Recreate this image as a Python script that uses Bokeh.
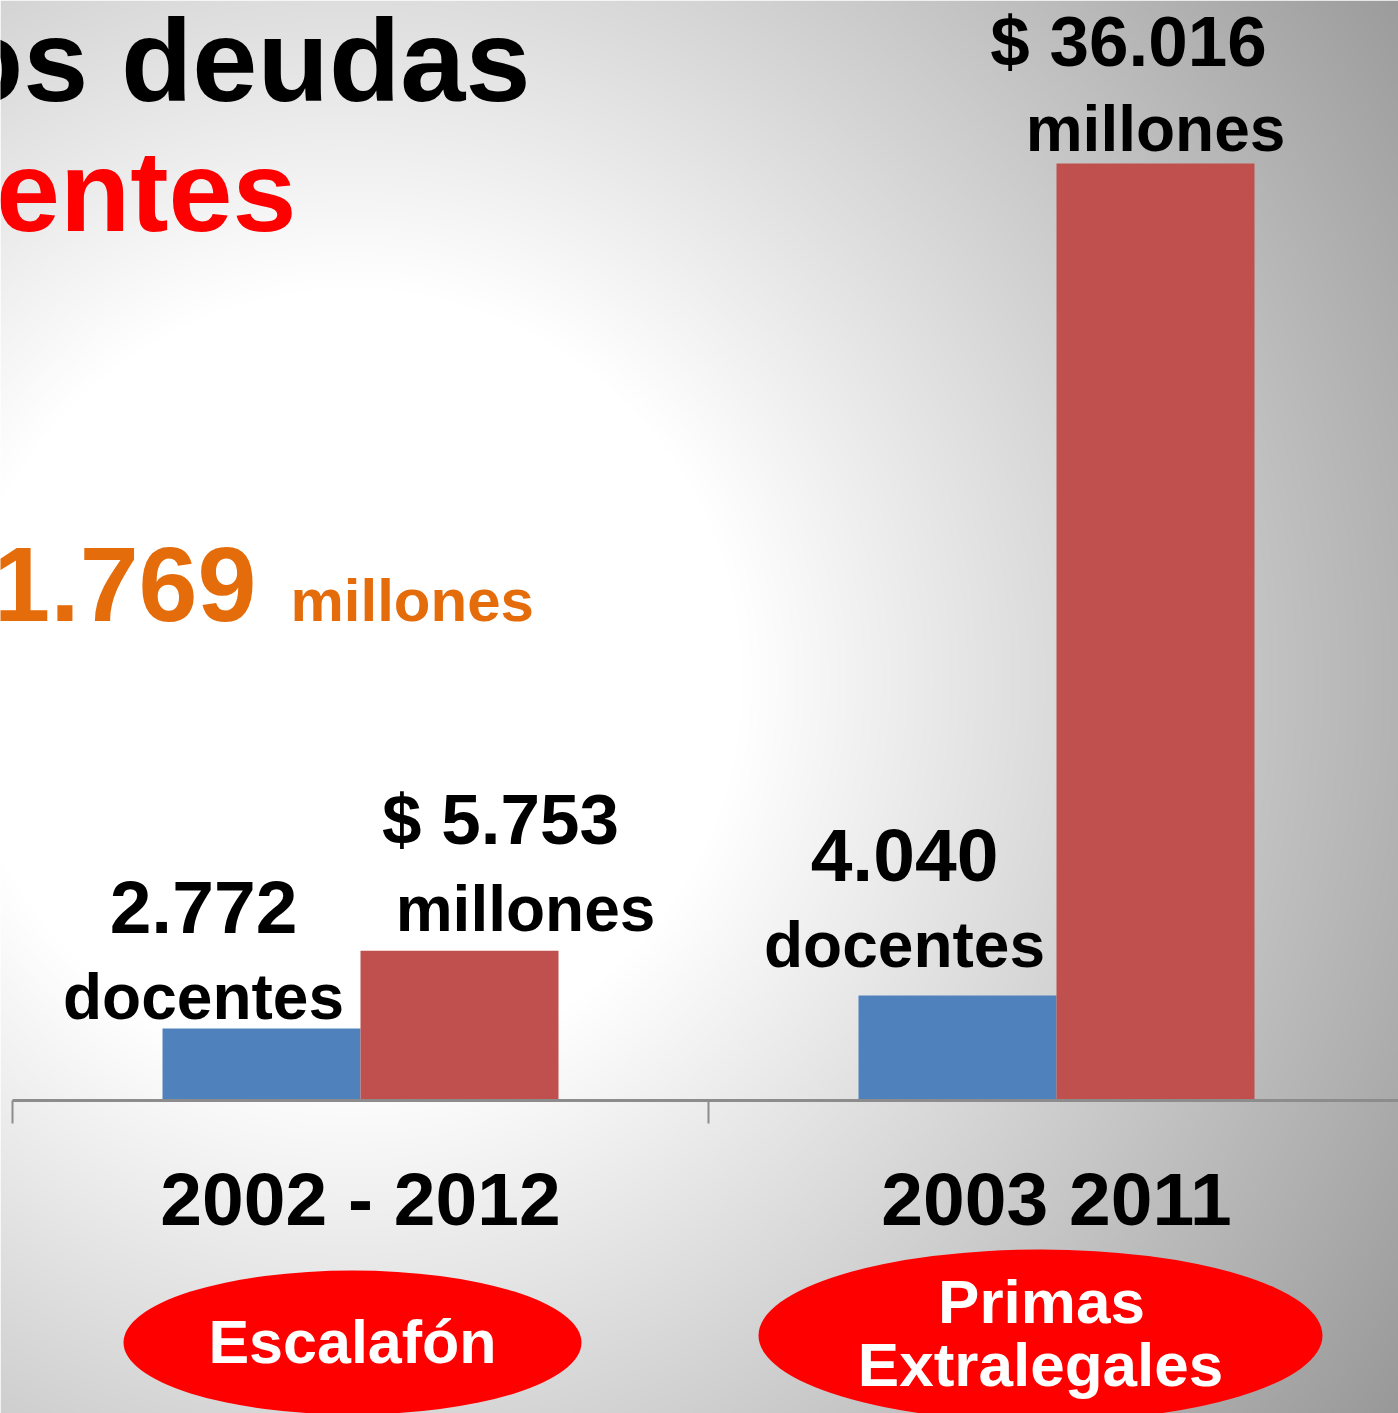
import numpy as np
from bokeh.plotting import figure
from bokeh.models import ColumnDataSource, Range1d, LinearAxis, FixedTicker
from bokeh.core.properties import value
from bokeh.embed import file_html
from bokeh.resources import INLINE

# ---------------- data ----------------
periods = ["2002 - 2012", "2003 2011"]
tags = ["Escalafón", "Primas\nExtralegales"]
docentes = [2772, 4040]          # blue series
millones = [5753, 36016]         # red series (millones de pesos)
doc_labels = ["2.772", "4.040"]
mil_labels = ["$ 5.753", "$ 36.016"]
total_label = "$ 41.769"
title_1 = "dos deudas"
title_2 = "docentes"

# ---------------- geometry helpers (reference pixel -> data) ----------------
PX_PER_CAT = 696.0
X0 = 12.0
BASE = 1100.0
S = 937.0 / 36016.0  # px per unit
MID = 0.34           # baseline -> middle shift, in em


def X(px):
    return (px - X0) / PX_PER_CAT


def Y(py):
    return (BASE - py) / S


def YB(baseline_px, fs):
    # y of a "middle"-aligned text whose baseline sits at baseline_px
    return Y(baseline_px - MID * fs)


W, H = 1398, 1413
FONT = value("Liberation Sans")

p = figure(width=W, height=H, output_backend="svg", toolbar_location=None,
           x_axis_type=None, y_axis_type=None,
           x_range=Range1d(X(0), X(W)), y_range=Range1d(Y(H), Y(0)),
           min_border=0)
p.outline_line_color = None
p.grid.visible = False
p.background_fill_color = "white"
p.border_fill_color = "white"

# ---------------- background radial gradient ----------------
ny, nx = H // 2, W // 2
xs = (np.arange(nx) + 0.5) * (W / nx)
ys = H - (np.arange(ny) + 0.5) * (H / ny)  # row 0 at bottom
XX, YY = np.meshgrid(xs, ys)
d = np.sqrt((XX - 350.0) ** 2 + (YY - 680.0) ** 2)
g = 255.0 - 0.1157 * np.clip(d - 393.0, 0, None)
g = np.clip(g, 150, 255).astype(np.uint32)
img = (255 << 24) | (g << 16) | (g << 8) | g
p.image_rgba(image=[img.view(np.uint32)], x=X(0), y=Y(H),
             dw=X(W) - X(0), dh=Y(0) - Y(H))

# ---------------- bars ----------------
centers = [0.5, 1.5]
bw = 198.0 / PX_PER_CAT
half = bw / 2
blue_x = [c - half for c in centers]
red_x = [c + half for c in centers]

src_b = ColumnDataSource(dict(x=blue_x, top=docentes))
src_r = ColumnDataSource(dict(x=red_x, top=millones))
p.vbar(x="x", top="top", bottom=0, width=bw, source=src_b,
       fill_color="#4F81BD", line_color=None)
p.vbar(x="x", top="top", bottom=0, width=bw, source=src_r,
       fill_color="#C0504D", line_color=None)

# ---------------- value labels (anchored to bar tops) ----------------
big = dict(text_font=FONT, text_font_style="bold", text_color="black",
           text_align="center", text_baseline="middle")
FS_NUM, FS_WORD, FS_MONEY = 75, 64, 71


def offs(base_offsets, fs):
    return [b - MID * fs for b in base_offsets]


lab_b_num = ColumnDataSource(dict(x=blue_x, y=docentes, t=doc_labels,
                                  xo=[-58, -53], yo=offs([-96, -115], FS_NUM)))
lab_b_txt = ColumnDataSource(dict(x=blue_x, y=docentes, t=["docentes", "docentes"],
                                  xo=[-58, -53], yo=offs([-10, -29], FS_WORD)))
lab_r_num = ColumnDataSource(dict(x=red_x, y=millones, t=mil_labels,
                                  xo=[41, -27], yo=offs([-107, -98], FS_MONEY)))
lab_r_txt = ColumnDataSource(dict(x=red_x, y=millones, t=["millones", "millones"],
                                  xo=[66, 0], yo=offs([-20, -13], FS_WORD)))
p.text(x="x", y="y", text="t", x_offset="xo", y_offset="yo", source=lab_b_num,
       text_font_size=f"{FS_NUM}px", **big)
p.text(x="x", y="y", text="t", x_offset="xo", y_offset="yo", source=lab_b_txt,
       text_font_size=f"{FS_WORD}px", **big)
p.text(x="x", y="y", text="t", x_offset="xo", y_offset="yo", source=lab_r_num,
       text_font_size=f"{FS_MONEY}px", **big)
p.text(x="x", y="y", text="t", x_offset="xo", y_offset="yo", source=lab_r_txt,
       text_font_size=f"{FS_WORD}px", **big)

# ---------------- title texts (cut at the left edge, as in the slide) ----------------
p.text(x=[X(530)], y=[YB(100, 117)], text=[title_1], text_font=FONT, text_font_style="bold",
       text_font_size="117px", text_color="black", text_align="right",
       text_baseline="middle")
p.text(x=[X(296)], y=[YB(230, 115)], text=[title_2], text_font=FONT, text_font_style="bold",
       text_font_size="115px", text_color="#FF0000", text_align="right",
       text_baseline="middle")
p.text(x=[X(256)], y=[YB(620, 106)], text=[total_label], text_font=FONT, text_font_style="bold",
       text_font_size="106px", text_color="#E46C0A", text_align="right",
       text_baseline="middle")
p.text(x=[X(290)], y=[YB(620, 60)], text=["millones"], text_font=FONT, text_font_style="bold",
       text_font_size="60px", text_color="#E46C0A", text_align="left",
       text_baseline="middle")

# ---------------- category axis ----------------
axis = LinearAxis(ticker=FixedTicker(ticks=centers, minor_ticks=[0, 1, 2]),
                  fixed_location=0)
axis.bounds = (0, 2)
axis.axis_line_color = "#8C8C8C"
axis.axis_line_width = 3
axis.major_tick_line_color = None
axis.major_tick_out = 0
axis.major_tick_in = 0
axis.minor_tick_line_color = "#8C8C8C"
axis.minor_tick_line_width = 2
axis.minor_tick_out = 23
axis.minor_tick_in = 0
axis.major_label_overrides = {c: lab for c, lab in zip(centers, periods)}
axis.major_label_text_font = "Liberation Sans"
axis.major_label_text_font_style = "bold"
axis.major_label_text_font_size = "75px"
axis.major_label_text_color = "black"
axis.major_label_standoff = 33
p.add_layout(axis, "below")

# ---------------- red ovals with white text ----------------
oval_x = [X(352), X(1040)]
oval_y = [Y(1342), Y(1335)]
p.ellipse(x=oval_x, y=oval_y, width=[458, 564], height=[144, 172],
          width_units="screen", height_units="screen",
          fill_color="#FF0000", line_color=None)
p.text(x=[X(352)], y=[YB(1362, 61)], text=[tags[0]], text_font=FONT, text_font_style="bold",
       text_font_size="61px", text_color="white", text_align="center",
       text_baseline="middle")
p.text(x=[X(1041), X(1040)], y=[YB(1322, 62), YB(1385, 62)], text=tags[1].split("\n"),
       text_font=FONT, text_font_style="bold", text_font_size="62px",
       text_color="white", text_align="center", text_baseline="middle")

open("out.html", "w").write(file_html(p, INLINE))
